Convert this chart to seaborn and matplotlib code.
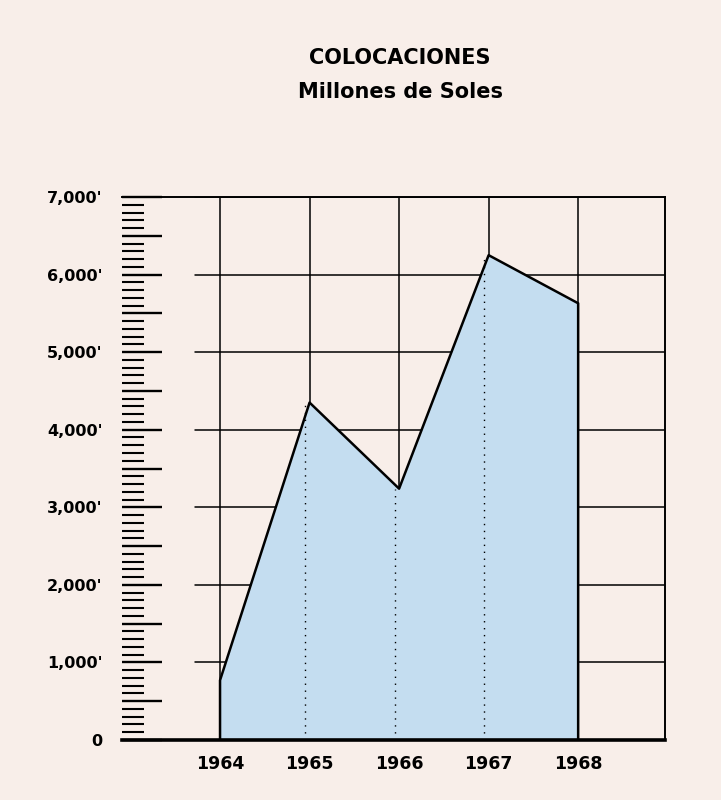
import matplotlib
matplotlib.use("Agg")
import matplotlib.pyplot as plt
import seaborn as sns
import pandas as pd
from matplotlib.ticker import MultipleLocator, FuncFormatter

years = [1964, 1965, 1966, 1967, 1968]
colocaciones = [770, 4350, 3240, 6250, 5630]
y_labels = ["0", "1,000'", "2,000'", "3,000'", "4,000'", "5,000'", "6,000'", "7,000'"]

bg = "#f8eee9"
fill_col = "#c4ddf0"

sns.set_style("white")
plt.rcParams["font.family"] = ["DejaVu Sans"]
plt.rcParams["text.color"] = "black"
plt.rcParams["xtick.color"] = "black"
plt.rcParams["ytick.color"] = "black"

fig = plt.figure(figsize=(7.21, 8.0), dpi=100, facecolor=bg)
ax = fig.add_axes([122 / 721, 60 / 800, 543 / 721, 543 / 800])
ax.set_facecolor(bg)

ax.set_xlim(1962.905, 1968.97)
ax.set_ylim(0, 7000)

# horizontal grid starts to the right of the ruler
for v in range(1000, 7001, 1000):
    ax.plot([1963.72, 1968.97], [v, v], color="black", lw=1.1, zorder=1)
for yr in years:
    ax.plot([yr, yr], [0, 7000], color="black", lw=1.1, zorder=1)

df = pd.DataFrame({"year": years, "value": colocaciones})
ax.fill_between(df["year"], 0, df["value"], color=fill_col, zorder=2, lw=0)

# outline, with the vertical edges at both ends
outline = pd.DataFrame({
    "year": [years[0]] + years + [years[-1]],
    "value": [0] + colocaciones + [0],
})
sns.lineplot(data=outline, x="year", y="value", sort=False, estimator=None,
             color="black", lw=1.8, ax=ax, zorder=3)

for yr, v in zip(years[1:-1], colocaciones[1:-1]):
    ax.plot([yr - 0.05, yr - 0.05], [0, v], color="black", lw=1.0,
            ls=(0, (1, 4)), zorder=3)

ax.spines["left"].set_visible(False)
ax.spines["bottom"].set_linewidth(2.6)
ax.spines["top"].set_linewidth(1.4)
ax.spines["right"].set_linewidth(1.4)
for s in ["bottom", "top", "right"]:
    ax.spines[s].set_color("black")
    ax.spines[s].set_zorder(4)

ax.yaxis.set_major_locator(MultipleLocator(500))
ax.yaxis.set_minor_locator(MultipleLocator(100))
ax.yaxis.set_major_formatter(FuncFormatter(
    lambda v, p: y_labels[int(round(v / 1000))] if int(round(v)) % 1000 == 0 else ""))
ax.tick_params(axis="y", which="major", direction="in", length=29, width=1.7,
               pad=14, labelsize=11.5, left=True)
ax.tick_params(axis="y", which="minor", direction="in", length=16, width=1.5,
               left=True)
for lbl in ax.get_yticklabels():
    lbl.set_fontweight("bold")

ax.set_xticks(years)
ax.set_xticklabels([str(y) for y in years], fontsize=12.5, fontweight="bold")
ax.tick_params(axis="x", length=0, pad=11)
ax.set_xlabel("")
ax.set_ylabel("")

fig.text(400 / 721, 1 - 58 / 800, "COLOCACIONES", ha="center", va="center",
         fontsize=15, fontweight="bold")
fig.text(400 / 721, 1 - 92 / 800, "Millones de Soles", ha="center", va="center",
         fontsize=15, fontweight="bold")

fig.savefig("out.png", dpi=100, facecolor=bg)
